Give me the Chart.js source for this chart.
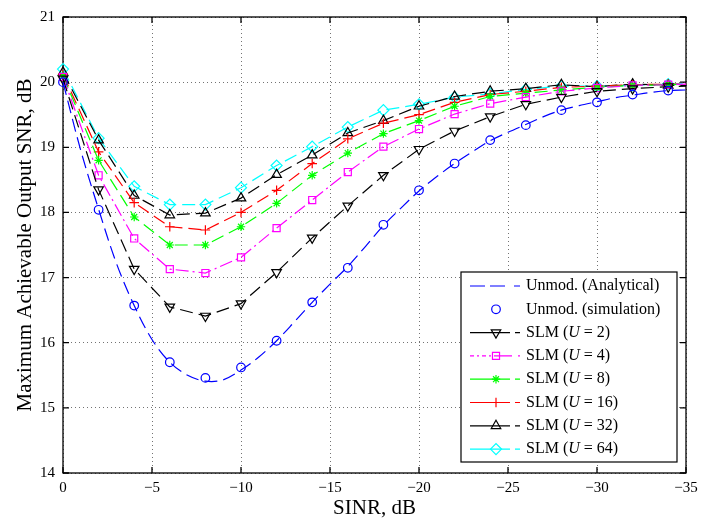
<!DOCTYPE html>
<html><head><meta charset="utf-8">
<script src="https://cdn.jsdelivr.net/npm/chart.js@4/dist/chart.umd.min.js"></script>
<style>html,body{margin:0;padding:0;background:#fff}canvas{display:block}</style>
</head><body>
<canvas id="c" width="721" height="521"></canvas>
<script>
// ---- data ----
const sinrDb = [0,-2,-4,-6,-8,-10,-12,-14,-16,-18,-20,-22,-24,-26,-28,-30,-32,-34,-35];
const analyticalSinrDb = [0,-1,-2,-3,-4,-5,-6,-7,-8,-9,-10,-11,-12,-13,-14,-15,-16,-17,-18,-19,-20,-21,-22,-23,-24,-25,-26,-27,-28,-29,-30,-31,-32,-33,-34,-35];
const analyticalSnr = [20.0,18.95,18.05,17.22,16.57,16.05,15.70,15.50,15.41,15.43,15.58,15.78,16.03,16.32,16.62,16.90,17.17,17.48,17.80,18.07,18.33,18.55,18.75,18.93,19.10,19.23,19.35,19.47,19.57,19.64,19.70,19.76,19.80,19.84,19.87,19.88];
const simulationSnr = [20.0,18.04,16.57,15.70,15.46,15.62,16.03,16.62,17.15,17.81,18.34,18.75,19.11,19.34,19.57,19.69,19.81,19.87];
const slmU2  = [20.05,18.35,17.13,16.55,16.41,16.60,17.08,17.61,18.10,18.57,18.97,19.25,19.47,19.66,19.77,19.86,19.90,19.93,19.94];
const slmU4  = [20.08,18.57,17.60,17.13,17.07,17.31,17.76,18.19,18.62,19.01,19.28,19.51,19.67,19.77,19.86,19.91,19.95,19.96,19.97];
const slmU8  = [20.10,18.80,17.93,17.50,17.50,17.78,18.14,18.57,18.91,19.21,19.41,19.63,19.78,19.83,19.88,19.92,19.95,19.96,19.97];
const slmU16 = [20.12,18.93,18.15,17.78,17.73,18.00,18.34,18.75,19.13,19.37,19.50,19.69,19.81,19.86,19.92,19.94,19.96,19.97,19.97];
const slmU32 = [20.15,19.11,18.26,17.96,17.99,18.22,18.58,18.88,19.22,19.41,19.63,19.78,19.86,19.90,19.96,19.93,19.97,19.95,19.95];
const slmU64 = [20.20,19.14,18.40,18.12,18.12,18.38,18.72,19.01,19.31,19.57,19.66,19.77,19.82,19.89,19.94,19.94,19.95,19.97,19.98];
const xTickValues = [0,-5,-10,-15,-20,-25,-30,-35];
const yTickValues = [14,15,16,17,18,19,20,21];
const xTitle = 'SINR, dB';
const yTitle = 'Maximum Achievable Output SNR, dB';

const FONT = "'Liberation Serif','Times New Roman',serif";
const DASH = [13,6];
const DASHDOT = [13,4,2,4];

function pts(xs, ys){ return ys.map((v,i)=>({x:xs[i], y:v})); }
const lastHidden = r => (c => c.dataIndex === sinrDb.length-1 ? 0 : r);

function slm(label, ys, color, style, radius, dash, rot){
  return {label, data: pts(sinrDb, ys), borderColor: color, backgroundColor:'rgba(0,0,0,0)',
    pointBorderColor: color, pointBackgroundColor:'rgba(0,0,0,0)', borderWidth:1.2, pointBorderWidth:1.2,
    borderDash: dash, pointStyle: style, pointRadius: lastHidden(radius), pointRotation: rot||0,
    tension:0, clip:false, legendDash: dash, legendRadius: radius};
}

const datasets = [
  {label:'Unmod. (Analytical)', data: pts(analyticalSinrDb, analyticalSnr), borderColor:'#0000ff',
   borderWidth:1.2, borderDash: DASH, pointRadius:0, tension:0.35, cubicInterpolationMode:'default', clip:false, legendLine:true},
  {label:'Unmod. (simulation)', data: pts(sinrDb, simulationSnr), borderColor:'#0000ff', showLine:false,
   pointStyle:'circle', pointRadius:4.3, pointBorderColor:'#0000ff', pointBackgroundColor:'rgba(0,0,0,0)', pointBorderWidth:1.2, clip:false, legendRadius:4.3},
  slm('SLM (U = 2)', slmU2, '#000000', 'triangle', 5.5, DASH, 180),
  slm('SLM (U = 4)', slmU4, '#ff00ff', 'rect', 5, DASHDOT),
  slm('SLM (U = 8)', slmU8, '#00ff00', 'star', 4.2, DASH),
  slm('SLM (U = 16)', slmU16, '#ff0000', 'cross', 4.8, DASH),
  slm('SLM (U = 32)', slmU32, '#000000', 'triangle', 5.5, DASH),
  slm('SLM (U = 64)', slmU64, '#00ffff', 'rectRot', 5.5, DASH),
];

const framePlugin = {
  id:'frame',
  beforeDatasetsDraw(chart){
    const {ctx, chartArea:{left,right,top,bottom}, scales:{x,y}} = chart;
    ctx.save();
    ctx.setLineDash([]);
    ctx.strokeStyle='#000'; ctx.lineWidth=1.3;
    ctx.strokeRect(left, top, right-left, bottom-top);
    ctx.beginPath();
    const L=6;
    xTickValues.forEach(v=>{const p=x.getPixelForValue(v); ctx.moveTo(p,bottom); ctx.lineTo(p,bottom-L); ctx.moveTo(p,top); ctx.lineTo(p,top+L);});
    yTickValues.forEach(v=>{const p=y.getPixelForValue(v); ctx.moveTo(left,p); ctx.lineTo(left+L,p); ctx.moveTo(right,p); ctx.lineTo(right-L,p);});
    ctx.stroke();
    ctx.restore();
  }
};

const legendPlugin = {
  id:'mlegend',
  afterDatasetsDraw(chart){
    const ctx = chart.ctx;
    const bx=461, by=272, bw=216, bh=190, row=23.3, y0=286, lx0=470, lx1=520, mx=496, tx=526;
    ctx.save();
    ctx.setLineDash([]);
    ctx.fillStyle='#fff'; ctx.fillRect(bx,by,bw,bh);
    ctx.strokeStyle='#000'; ctx.lineWidth=1.2; ctx.strokeRect(bx,by,bw,bh);
    chart.data.datasets.forEach((ds,i)=>{
      const yy = y0 + i*row;
      const col = ds.borderColor;
      if (ds.showLine !== false){
        ctx.save();
        ctx.strokeStyle = col; ctx.lineWidth=1.2;
        if (ds.legendLine) ctx.setLineDash([15,5,15,9]);
        else if (ds.borderDash === DASHDOT) ctx.setLineDash([4,3,2,3,4,3,2,3,18,6]);
        else ctx.setLineDash([40,5]);
        ctx.beginPath(); ctx.moveTo(lx0,yy); ctx.lineTo(lx1,yy); ctx.stroke();
        ctx.restore();
      }
      if (ds.pointStyle){
        ctx.save();
        ctx.strokeStyle = col; ctx.fillStyle='rgba(0,0,0,0)'; ctx.lineWidth=1.2; ctx.setLineDash([]);
        Chart.helpers.drawPoint(ctx, {pointStyle: ds.pointStyle, rotation: ds.pointRotation||0, radius: ds.legendRadius, borderWidth:1.2}, mx, yy);
        ctx.restore();
      }
      ctx.fillStyle='#000'; ctx.textBaseline='middle'; ctx.textAlign='left';
      const m = /^SLM \(U = (\d+)\)$/.exec(ds.label);
      const normal = "16px " + FONT, ital = "italic 16px " + FONT;
      if (m){
        let x = tx;
        const parts = [["SLM (",normal],["U",ital],[" = "+m[1]+")",normal]];
        parts.forEach(([s,f])=>{ctx.font=f; ctx.fillText(s,x,yy); x += ctx.measureText(s).width;});
      } else {
        ctx.font = normal; ctx.fillText(ds.label, tx, yy);
      }
    });
    ctx.restore();
  }
};

const fmt = v => v === 0 ? '0' : (v < 0 ? '\u2212' + Math.abs(v) : String(v));

new Chart(document.getElementById('c'), {
  type:'line',
  data:{datasets},
  options:{
    responsive:false, animation:false, devicePixelRatio:1,
    layout:{padding:{left:0,right:35,top:7,bottom:0}},
    plugins:{legend:{display:false}, tooltip:{enabled:false}},
    scales:{
      x:{type:'linear', min:-35, max:0, reverse:true,
        afterFit(s){ s.height = 48; },
        afterBuildTicks(s){ s.ticks = xTickValues.map(v=>({value:v})); },
        ticks:{callback: fmt, font:{family:FONT,size:15}, color:'#000', padding:6, maxRotation:0, autoSkip:false},
        grid:{drawTicks:false, color:'rgba(0,0,0,0.55)', lineWidth:1},
        border:{display:false, dash:[1,3]},
        title:{display:true, text:xTitle, font:{family:FONT,size:21}, color:'#000', padding:{top:0,bottom:0}}},
      y:{type:'linear', min:14, max:21,
        afterFit(s){ s.width = 63; },
        afterBuildTicks(s){ s.ticks = yTickValues.map(v=>({value:v})); },
        ticks:{callback: fmt, font:{family:FONT,size:15}, color:'#000', padding:8, autoSkip:false},
        grid:{drawTicks:false, color:'rgba(0,0,0,0.55)', lineWidth:1},
        border:{display:false, dash:[1,3]},
        title:{display:true, text:yTitle, font:{family:FONT,size:21}, color:'#000', padding:{top:13,bottom:0}}}
    }
  },
  plugins:[framePlugin, legendPlugin]
});
</script>
</body></html>
